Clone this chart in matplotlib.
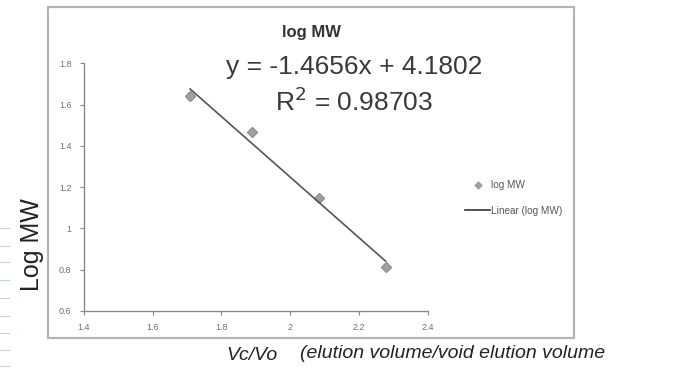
import matplotlib
matplotlib.use("Agg")
import matplotlib.pyplot as plt
from matplotlib.lines import Line2D
from matplotlib.patches import Rectangle
import numpy as np

# Elution ratio (Ve/Vo) and log molecular weight of the standards
ve_vo = [1.709, 1.890, 2.084, 2.278]
log_mw = [1.641, 1.468, 1.146, 0.815]

# Linear trendline reported on the chart
slope = -1.4656
intercept = 4.1802
r_squared = 0.98703

x_ticks = [1.4, 1.6, 1.8, 2.0, 2.2, 2.4]
x_tick_labels = ["1.4", "1.6", "1.8", "2", "2.2", "2.4"]
y_ticks = [0.6, 0.8, 1.0, 1.2, 1.4, 1.6, 1.8]
y_tick_labels = ["0.6", "0.8", "1", "1.2", "1.4", "1.6", "1.8"]

W, H = 677, 373
fig = plt.figure(figsize=(W / 100, H / 100), dpi=100)
fig.patch.set_facecolor("white")

narrow = ["Liberation Sans Narrow", "Liberation Sans", "DejaVu Sans"]

# chart border
fig.patches.append(Rectangle((48 / W, 1 - 338 / H), (574 - 48) / W, (338 - 7) / H,
                             transform=fig.transFigure, fill=False,
                             edgecolor="#b4b4b4", lw=1.6))

ax = fig.add_axes([84 / W, 1 - 311 / H, 343.5 / W, 247.7 / H])
ax.set_xlim(1.4, 2.4)
ax.set_ylim(0.6, 1.8)
for s in ("top", "right"):
    ax.spines[s].set_visible(False)
for s in ("left", "bottom"):
    ax.spines[s].set_color("#8a8a8a")
    ax.spines[s].set_linewidth(1.0)
ax.set_xticks(x_ticks)
ax.set_xticklabels(x_tick_labels)
ax.set_yticks(y_ticks)
ax.set_yticklabels(y_tick_labels)
ax.tick_params(direction="out", length=3, width=0.8, color="#8a8a8a",
               labelsize=6.5, labelcolor="#707070", pad=6)
for lab in ax.get_xticklabels() + ax.get_yticklabels():
    lab.set_family(narrow)

ax.plot(ve_vo, log_mw, linestyle="none", marker="D", markersize=5,
        color="#a0a0a0", markeredgecolor="#909090", clip_on=False)
xs = np.array([min(ve_vo), max(ve_vo)])
ax.plot(xs, slope * xs + intercept, color="#555555", lw=1.2)

# title and trendline equation
fig.text(312 / W, 1 - 33 / H, "log MW", ha="center", va="center",
         fontsize=12, fontweight="bold", color="#333333", family=narrow)
fig.text(354 / W, 1 - 67 / H, f"y = {slope}x + {intercept}", ha="center",
         va="center", fontsize=19, color="#3a3a3a", family=narrow)
fig.text(354 / W, 1 - 102 / H, f"R$^2$ = {r_squared}", ha="center",
         va="center", fontsize=19, color="#3a3a3a", family=narrow)

# legend
handles = [Line2D([], [], linestyle="none", marker="D", markersize=3.5,
                  color="#a0a0a0"),
           Line2D([], [], color="#333333", lw=1.2)]
leg = fig.legend(handles, ["log MW", "Linear (log MW)"],
                 loc="center left", bbox_to_anchor=(456 / W, 1 - 198 / H),
                 frameon=False, handlelength=2.5,
                 handletextpad=0.1, labelspacing=1.5,
                 prop={"family": narrow, "size": 7.2})
for t in leg.get_texts():
    t.set_color("#555555")

# hand-written axis notes
fig.text(32 / W, 1 - 245 / H, "Log MW", rotation=90, ha="center",
         va="center", fontsize=18, color="#222222", family=narrow)
fig.text(252 / W, 1 - 356 / H, "Vc/Vo", ha="center", va="center",
         fontsize=14, color="#222222", family=narrow, style="italic")
fig.text(300 / W, 1 - 354 / H, "(elution volume/void elution volume",
         ha="left", va="center", fontsize=14, color="#222222",
         family=narrow, style="italic")

# faint ruled-paper marks at the left edge
for yy in [228, 246, 262, 280, 298, 316, 333, 350, 366]:
    fig.add_artist(Line2D([0, 9 / W], [1 - yy / H, 1 - yy / H],
                          transform=fig.transFigure, color="#bcd8de", lw=0.8))

fig.savefig("out.png", dpi=100, facecolor="white")
